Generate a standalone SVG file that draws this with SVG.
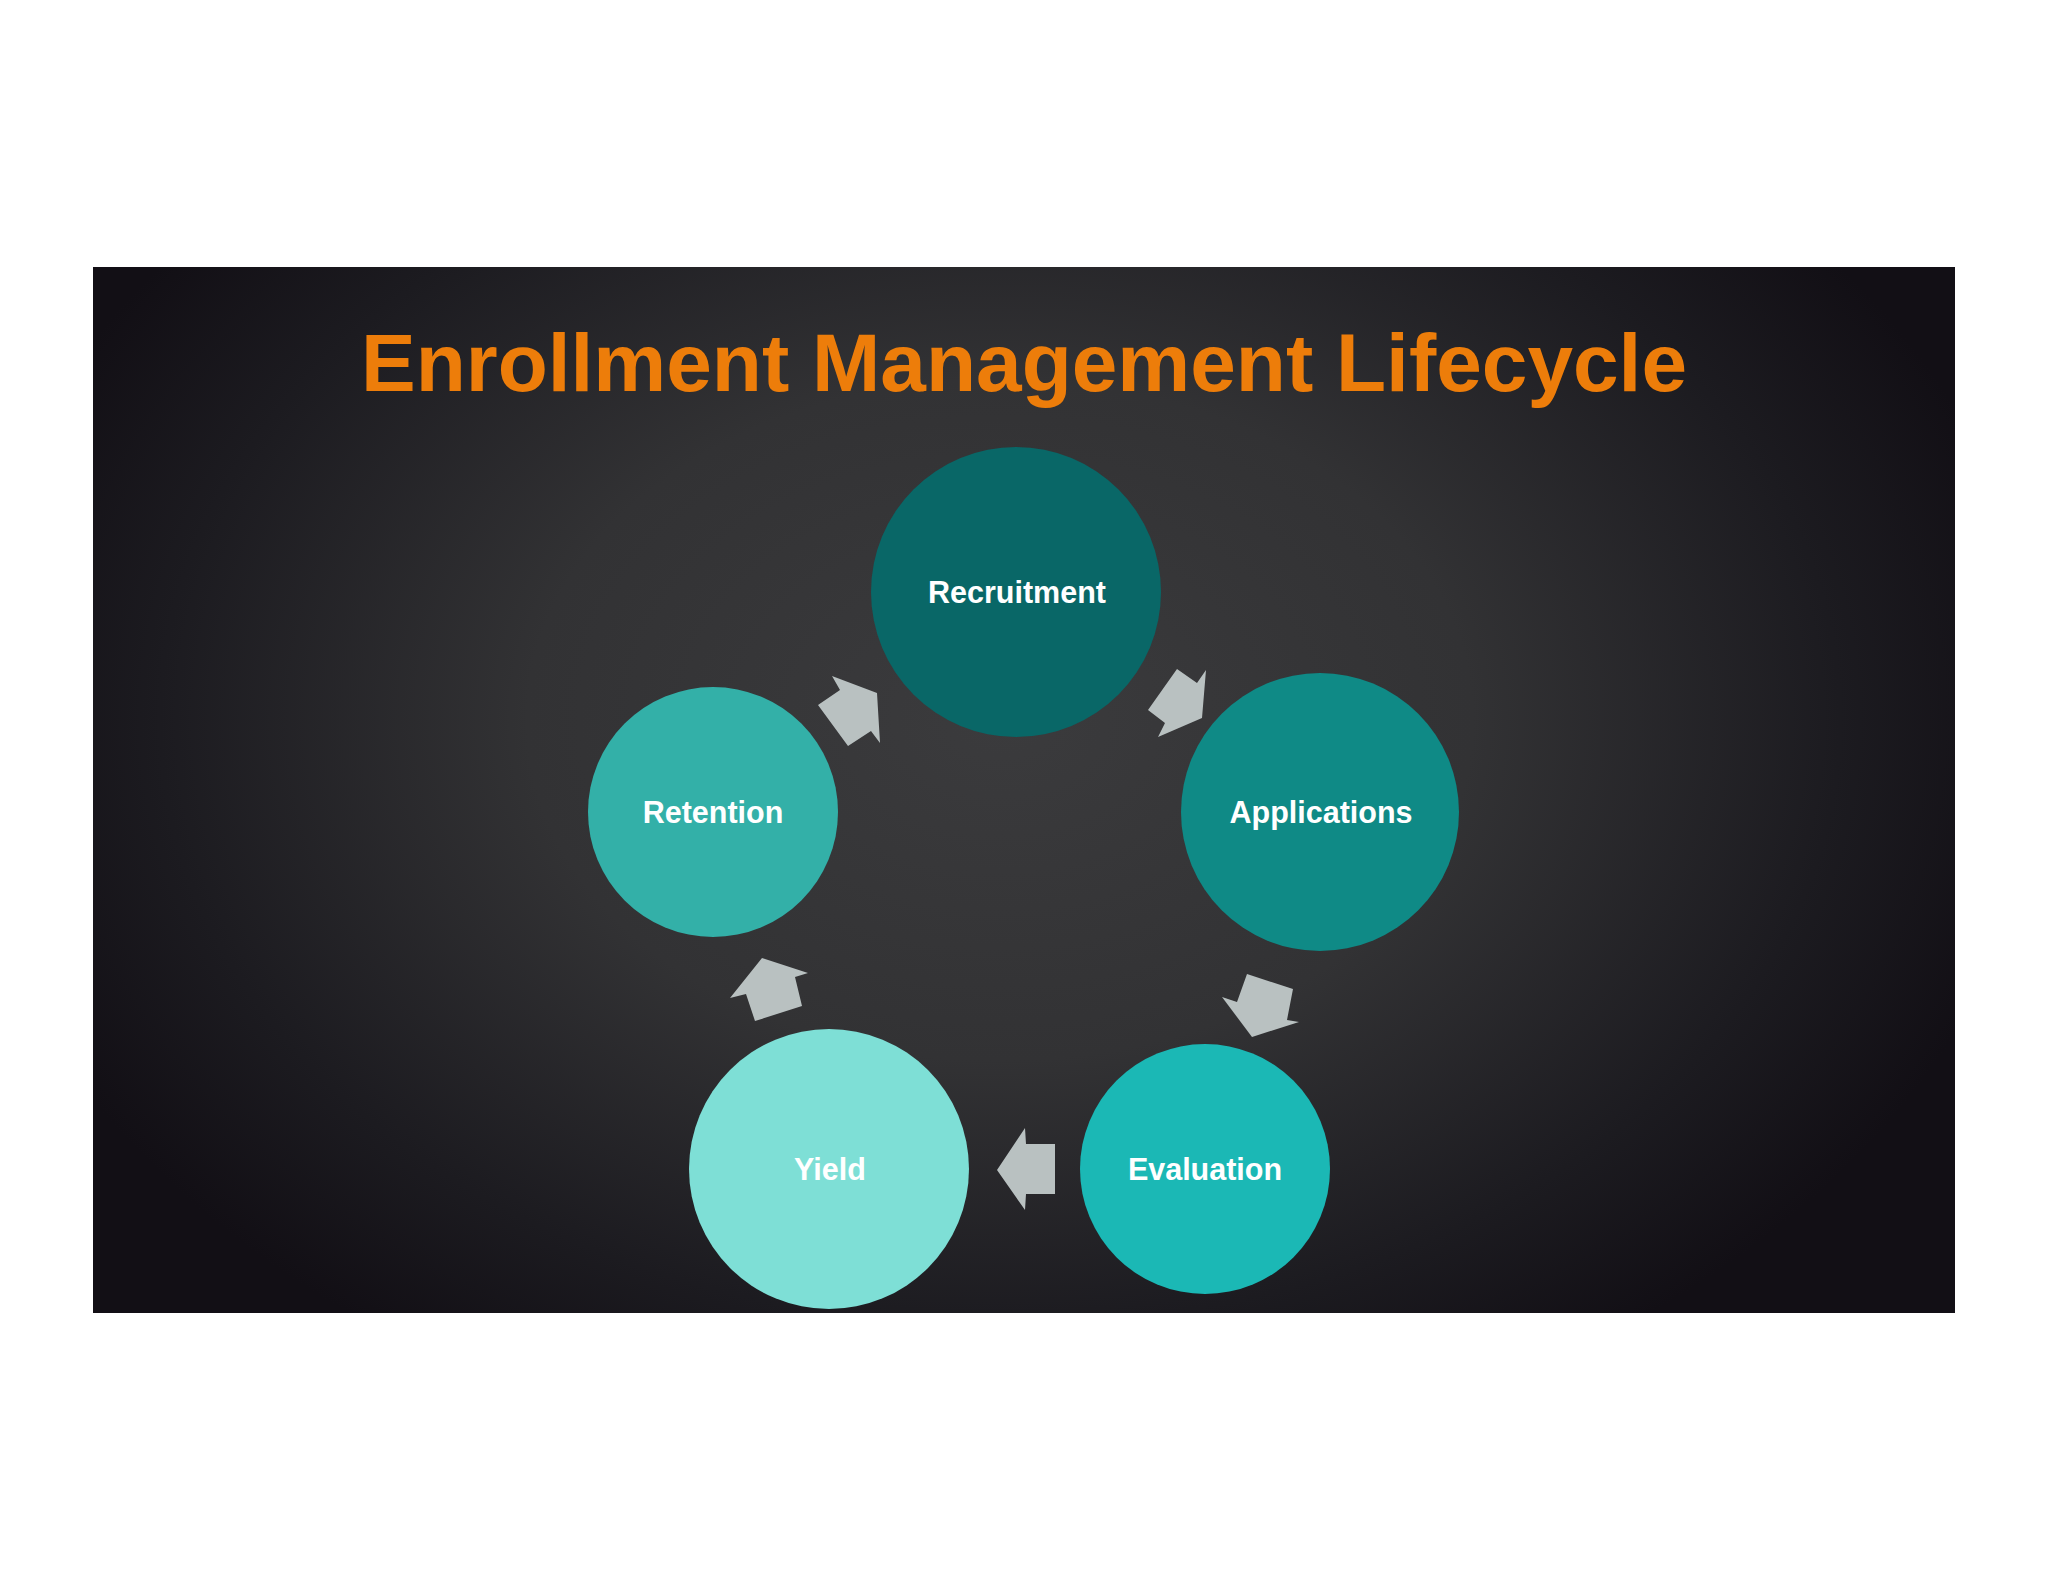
<svg xmlns="http://www.w3.org/2000/svg" width="2048" height="1582" viewBox="0 0 2048 1582">
  <defs>
    <radialGradient id="bg" cx="1000" cy="720" r="1050" gradientUnits="userSpaceOnUse" gradientTransform="translate(1000 720) scale(1 0.72) translate(-1000 -720)">
      <stop offset="0" stop-color="#3b3b3d"/>
      <stop offset="0.45" stop-color="#323234"/>
      <stop offset="0.8" stop-color="#1c1b20"/>
      <stop offset="1" stop-color="#120f15"/>
    </radialGradient>
    <style>
      .title { font-family: "Liberation Sans", Arial, sans-serif; font-weight: bold; font-size: 82px; fill: #ED7D0A; }
      .label { font-family: "Liberation Sans", Arial, sans-serif; font-weight: bold; font-size: 30.5px; fill: #FFFFFF; text-anchor: middle; }
      .arrow { fill: #B9C1C1; }
    </style>
  </defs>
  <rect x="0" y="0" width="2048" height="1582" fill="#FFFFFF"/>
  <rect id="panel" x="93" y="267" width="1862" height="1046" fill="url(#bg)"/>
  <text class="title" x="1024" y="391" text-anchor="middle">Enrollment Management Lifecycle</text>

  <g id="connectors">
    <polygon class="arrow" points="1177,669 1197,683 1206,670 1202,718 1158,737 1165,723 1148,710"/>
    <polygon class="arrow" points="1247,974 1293,989 1287,1020 1299,1022 1252,1037 1222,997 1237,1002"/>
    <polygon class="arrow" points="997,1170 1025,1128 1026,1144 1055,1144 1055,1194 1026,1194 1025,1210"/>
    <polygon class="arrow" points="762,958 808,973 795,977 802,1006 755,1021 746,994 730,998"/>
    <polygon class="arrow" points="832,676 877,693 880,743 871,731 848,746 818,705 840,690"/>
  </g>

  <g id="recruitment">
    <circle cx="1016" cy="592" r="145" fill="#096767"/>
    <text class="label" x="1017" y="603">Recruitment</text>
  </g>
  <g id="applications">
    <circle cx="1320" cy="812" r="139" fill="#0F8A86"/>
    <text class="label" x="1321" y="823">Applications</text>
  </g>
  <g id="evaluation">
    <circle cx="1205" cy="1169" r="125" fill="#1BB8B5"/>
    <text class="label" x="1205" y="1180">Evaluation</text>
  </g>
  <g id="yield">
    <circle cx="829" cy="1169" r="140" fill="#7EDFD6"/>
    <text class="label" x="830" y="1180">Yield</text>
  </g>
  <g id="retention">
    <circle cx="713" cy="812" r="125" fill="#33B0A8"/>
    <text class="label" x="713" y="823">Retention</text>
  </g>
</svg>
